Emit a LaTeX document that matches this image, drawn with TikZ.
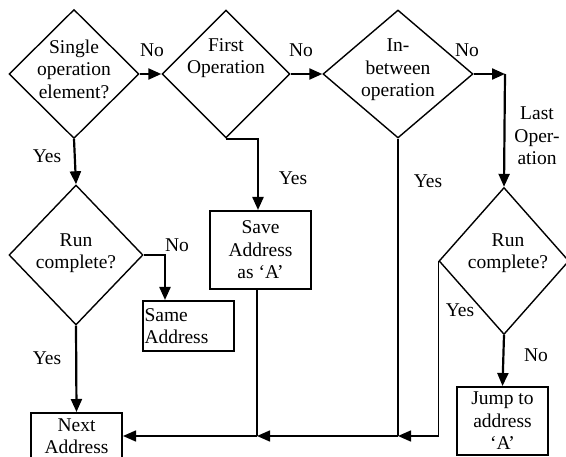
\documentclass[tikz,border=0pt]{standalone}
\usepackage{fontspec}
\setmainfont{Liberation Serif}
\usetikzlibrary{shapes.geometric,arrows.meta}

\begin{document}
\begin{tikzpicture}[x=1pt,y=-1pt,
    font=\fontsize{19.5}{22.5}\selectfont,
    decision/.style={draw, diamond, line width=1.4pt, inner sep=0pt},
    block/.style={draw, rectangle, line width=2pt, inner sep=1pt, align=center},
    txt/.style={draw=none, align=center, inner sep=0pt},
    arr/.style={line width=2.2pt, -{Triangle[length=13pt,width=11pt]}},
    flow/.style={line width=1.4pt}]
  \clip (0,0) rectangle (566,457);

  % decisions
  \node[decision, minimum width=130, minimum height=129] (single) at (74,74) {};
  \node[txt] (singletxt) at (74,69) {Single\\operation\\element?};
  \node[decision, minimum width=128, minimum height=128] (first) at (226,74) {};
  \node[txt] (firsttxt) at (226,58) {First\\Operation};
  \node[decision, minimum width=150, minimum height=128] (inbetween) at (398,74) {};
  \node[txt] (inbetweentxt) at (398,70) {In-\\between\\operation};
  \node[decision, minimum width=134, minimum height=140] (runleft) at (76,255) {};
  \node[txt] (runlefttxt) at (76,253) {Run\\complete?};
  \node[decision, minimum width=130, minimum height=147] (runright) at (504,261) {};
  \node[txt] (runrighttxt) at (508,253) {Run\\complete?};

  % boxes
  \node[block, minimum width=91, minimum height=50, text width=88, align=left] (same) at (188.5,326) {Same\\Address};
  \node[block, minimum width=101, minimum height=78] (save) at (260.5,250) {Save\\Address\\as `A'};
  \node[block, minimum width=91, minimum height=46] (next) at (76.5,436) {Next\\Address};
  \node[block, minimum width=91, minimum height=68] (jump) at (502.5,421) {Jump to\\address\\`A'};

  \coordinate (corner) at (505,74);
  \coordinate (j1) at (398,436);
  \coordinate (j2) at (257,436);

  % top row
  \draw[arr] (single.east) -- (first.west);
  \draw[arr] (first.east) -- (inbetween.west);
  \draw[arr] (inbetween.east) -- (corner);
  \draw[arr] (corner) -- (runright.north);

  % down branches
  \draw[arr] (single.south) -- (runleft.north);
  \draw[arr] (first.south) -| ([xshift=-2.5pt]save.north);
  \draw[arr] (runleft.east) -| ([xshift=-23.5pt]same.north);
  \draw[arr] (runleft.south) -- (next.north);
  \draw[arr] (runright.south) -- (jump.north);

  % return line
  \draw[flow] (inbetween.south) -- (j1);
  \draw[flow] ([xshift=-3.5pt]save.south) -- (j2);
  \draw[flow, -{Triangle[length=13pt,width=11pt]}] (runright.west) |- (j1);
  \draw[flow, -{Triangle[length=13pt,width=11pt]}] (j1) -- (j2);
  \draw[flow, -{Triangle[length=13pt,width=11pt]}] (j2) -- (next.east);

  % labels
  \node[txt] (no1) at (152,50) {No};
  \node[txt] (no2) at (301,50) {No};
  \node[txt] (no3) at (467,50) {No};
  \node[txt] (last) at (537,136) {Last\\Oper-\\ation};
  \node[txt] (yes1) at (47,156) {Yes};
  \node[txt] (yes2) at (293,178) {Yes};
  \node[txt] (yes3) at (428,181) {Yes};
  \node[txt] (yes4) at (460,310) {Yes};
  \node[txt] (no4) at (536,355) {No};
  \node[txt] (no5) at (177,245) {No};
  \node[txt] (yes5) at (47,358) {Yes};
\end{tikzpicture}
\end{document}
